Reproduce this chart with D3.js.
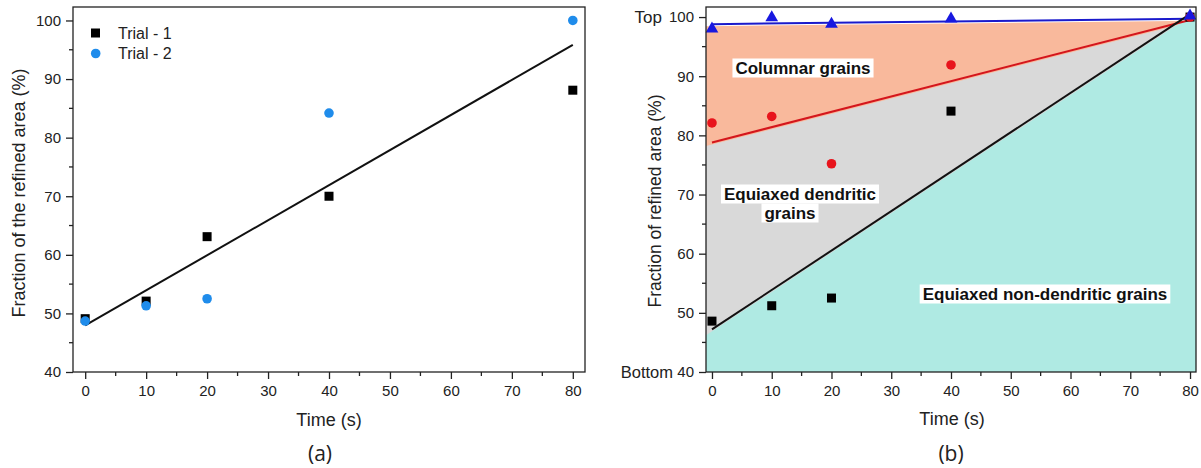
<!DOCTYPE html>
<html><head><meta charset="utf-8">
<script src="https://cdn.jsdelivr.net/npm/d3@7"></script>
<style>html,body{margin:0;padding:0;background:#fff;} svg{display:block;font-family:"Liberation Sans",Arial,sans-serif;}</style>
</head><body>
<svg id="chart" width="1201" height="468"></svg>
<script>
// ---------- data ----------
const times = [0, 10, 20, 40, 80];
const xTicks = [0, 10, 20, 30, 40, 50, 60, 70, 80];
const yTicks = [40, 50, 60, 70, 80, 90, 100];
// panel (a)
const trial1 = [49.1, 52.1, 63.1, 70.0, 88.1];
const trial2 = [48.7, 51.3, 52.5, 84.2, 100.0];
// panel (b)
const equiaxedND = [48.6, 51.2, 52.5, 84.1, 100.0];   // black squares
const equiaxedD  = [82.1, 83.2, 75.2, 91.9, 100.0];   // red circles
const columnar   = [98.0, 99.9, 98.8, 99.7, 100.2];   // blue triangles
// fitted boundary lines in (b): values at t = 0 and t = 80
const fitTimes = [0, 80];
const fitBlack = [47.2, 100.5];
const fitRed   = [78.8, 99.5];
const fitBlue  = [98.8, 99.7];

const svg = d3.select("#chart");
const FONT = "'Liberation Sans', Arial, sans-serif";

function linReg(xs, ys) {
  const n = xs.length, mx = d3.mean(xs), my = d3.mean(ys);
  let sxy = 0, sxx = 0;
  for (let i = 0; i < n; i++) { sxy += (xs[i]-mx)*(ys[i]-my); sxx += (xs[i]-mx)**2; }
  const b = sxy / sxx; return {a: my - b*mx, b};
}

function drawAxes(g, x, y, left, right, top, bottom, yLabel, yLabelX, yLabelY, yLabelSize) {
  const col = "#222";
  g.append("rect").attr("x", left).attr("y", top).attr("width", right-left).attr("height", bottom-top)
    .attr("fill", "none").attr("stroke", col).attr("stroke-width", 1.3);
  const ya = g.append("g").attr("transform", `translate(${left},0)`)
    .call(d3.axisLeft(y).tickValues(yTicks).tickSize(7).tickPadding(5).tickFormat(d3.format("d")));
  ya.select(".domain").remove();
  ya.selectAll("line").attr("stroke", col).attr("stroke-width", 1.3);
  ya.selectAll("text").attr("font-size", 15).attr("fill", "#222").attr("font-family", FONT);
  const yMinor = d3.range(45, 100, 10);
  g.append("g").selectAll("line").data(yMinor).join("line")
    .attr("x1", left-4).attr("x2", left).attr("y1", d => y(d)).attr("y2", d => y(d))
    .attr("stroke", col).attr("stroke-width", 1.3);
  const xa = g.append("g").attr("transform", `translate(0,${bottom})`)
    .call(d3.axisBottom(x).tickValues(xTicks).tickSize(7).tickPadding(6).tickFormat(d3.format("d")));
  xa.select(".domain").remove();
  xa.selectAll("line").attr("stroke", col).attr("stroke-width", 1.3);
  xa.selectAll("text").attr("font-size", 15).attr("fill", "#222").attr("font-family", FONT);
  const xMinor = d3.range(5, 80, 10);
  g.append("g").selectAll("line").data(xMinor).join("line")
    .attr("x1", d => x(d)).attr("x2", d => x(d)).attr("y1", bottom).attr("y2", bottom+4)
    .attr("stroke", col).attr("stroke-width", 1.3);
  g.append("text").attr("transform", `translate(${yLabelX},${yLabelY}) rotate(-90)`)
    .attr("text-anchor", "middle").attr("dominant-baseline", "central")
    .attr("font-size", yLabelSize).attr("fill", "#222").attr("font-family", FONT)
    .text(yLabel);
}

// ---------- panel (a) ----------
{
  const L = 73, R = 585, T = 7, B = 372;
  const x = d3.scaleLinear().domain([-2, 82]).range([L, R]);
  const y = d3.scaleLinear().domain([40, 102.3]).range([B, T]);
  const g = svg.append("g");
  const allX = times.concat(times), allY = trial1.concat(trial2);
  const fit = linReg(allX, allY);
  const fitPts = [0, 80].map(t => [x(t), y(fit.a + fit.b*t)]);
  g.append("path").attr("d", d3.line()(fitPts)).attr("stroke", "#111").attr("stroke-width", 2).attr("fill", "none");
  g.append("g").selectAll("rect").data(times.map((t,i)=>[t, trial1[i]])).join("rect")
    .attr("x", d => x(d[0]) - 4.5).attr("y", d => y(d[1]) - 4.5).attr("width", 9).attr("height", 9).attr("fill", "#000");
  g.append("g").selectAll("circle").data(times.map((t,i)=>[t, trial2[i]])).join("circle")
    .attr("cx", d => x(d[0])).attr("cy", d => y(d[1])).attr("r", 4.8).attr("fill", "#1f8ceb");
  drawAxes(g, x, y, L, R, T, B, "Fraction of the refined area (%)", 19, 193, 18);
  // legend
  g.append("rect").attr("x", 91).attr("y", 28.5).attr("width", 9).attr("height", 9).attr("fill", "#000");
  g.append("circle").attr("cx", 95.7).attr("cy", 53.5).attr("r", 4.8).attr("fill", "#1f8ceb");
  g.append("text").attr("x", 118).attr("y", 39).attr("font-size", 16).attr("fill", "#222").text("Trial - 1");
  g.append("text").attr("x", 118).attr("y", 59).attr("font-size", 16).attr("fill", "#222").text("Trial - 2");
  g.append("text").attr("x", 329).attr("y", 426).attr("text-anchor", "middle")
    .attr("font-size", 18).attr("fill", "#222").text("Time (s)");
  g.append("text").attr("x", 320).attr("y", 461).attr("text-anchor", "middle")
    .attr("font-size", 21).attr("fill", "#222").attr("font-family", "'Open Sans', sans-serif").text("(a)");
}

// ---------- panel (b) ----------
{
  const L = 706, R = 1196, T = 7, B = 372;
  const x = d3.scaleLinear().domain([-1, 81]).range([L, R]);
  const y = d3.scaleLinear().domain([40, 101.7]).range([B, T]);
  const g = svg.append("g");
  const clipId = "clipB";
  g.append("clipPath").attr("id", clipId).append("rect").attr("x", L).attr("y", T).attr("width", R-L).attr("height", B-T);
  const lineAt = (vals, t) => vals[0] + (vals[1]-vals[0]) * (t - fitTimes[0]) / (fitTimes[1]-fitTimes[0]);
  const areaFor = vals => d3.area().x(d => x(d)).y0(y(40)).y1(d => y(lineAt(vals, d)) + 2)([-1, 81]);
  const fills = g.append("g").attr("clip-path", `url(#${clipId})`);
  fills.append("path").attr("d", areaFor(fitBlue)).attr("fill", "#f9b99c");
  fills.append("path").attr("d", areaFor(fitRed)).attr("fill", "#d9d9d9");
  fills.append("path").attr("d", areaFor(fitBlack)).attr("fill", "#afeae3");
  const fitLine = vals => d3.line()(fitTimes.map(t => [x(t), y(lineAt(vals, t))]));
  g.append("path").attr("d", fitLine(fitBlue)).attr("stroke", "#1a1acc").attr("stroke-width", 2).attr("fill", "none");
  g.append("path").attr("d", fitLine(fitRed)).attr("stroke", "#d4161c").attr("stroke-width", 2).attr("fill", "none");
  g.append("path").attr("d", fitLine(fitBlack)).attr("stroke", "#111").attr("stroke-width", 2).attr("fill", "none");
  g.append("g").selectAll("rect").data(times.map((t,i)=>[t, equiaxedND[i]])).join("rect")
    .attr("x", d => x(d[0]) - 4.5).attr("y", d => y(d[1]) - 4.5).attr("width", 9).attr("height", 9).attr("fill", "#000");
  g.append("g").selectAll("circle").data(times.map((t,i)=>[t, equiaxedD[i]])).join("circle")
    .attr("cx", d => x(d[0])).attr("cy", d => y(d[1])).attr("r", 4.8).attr("fill", "#e8141c");
  const tri = d3.symbol().type(d3.symbolTriangle).size(70);
  g.append("g").selectAll("path").data(times.map((t,i)=>[t, columnar[i]])).join("path")
    .attr("d", tri).attr("transform", d => `translate(${x(d[0])},${y(d[1])})`).attr("fill", "#1818e0");

  function boxLabel(s, cx, cy) {
    const grp = g.append("g");
    const t = grp.append("text").attr("x", cx).attr("y", cy).attr("text-anchor", "middle")
      .attr("dominant-baseline", "central").attr("font-size", 17).attr("font-weight", "bold")
      .attr("fill", "#111").text(s);
    const bb = t.node().getBBox();
    grp.insert("rect", "text").attr("x", bb.x - 3).attr("y", bb.y).attr("width", bb.width + 6)
      .attr("height", bb.height).attr("fill", "#fff");
  }
  boxLabel("Columnar grains", 803, 68);
  boxLabel("Equiaxed dendritic", 800, 194);
  boxLabel("grains", 790, 213);
  boxLabel("Equiaxed non-dendritic grains", 1045, 294);

  drawAxes(g, x, y, L, R, T, B, "Fraction of refined area (%)", 655, 201, 17.5);
  g.append("text").attr("x", 662).attr("y", y(100)).attr("dominant-baseline", "central").attr("text-anchor", "end")
    .attr("font-size", 17).attr("fill", "#222").text("Top");
  g.append("text").attr("x", 673).attr("y", y(40)).attr("dominant-baseline", "central").attr("text-anchor", "end")
    .attr("font-size", 16.5).attr("fill", "#222").text("Bottom");
  g.append("text").attr("x", 952).attr("y", 425).attr("text-anchor", "middle")
    .attr("font-size", 18).attr("fill", "#222").text("Time (s)");
  g.append("text").attr("x", 951).attr("y", 461).attr("text-anchor", "middle")
    .attr("font-size", 21).attr("fill", "#222").attr("font-family", "'Open Sans', sans-serif").text("(b)");
}
</script>
</body></html>
